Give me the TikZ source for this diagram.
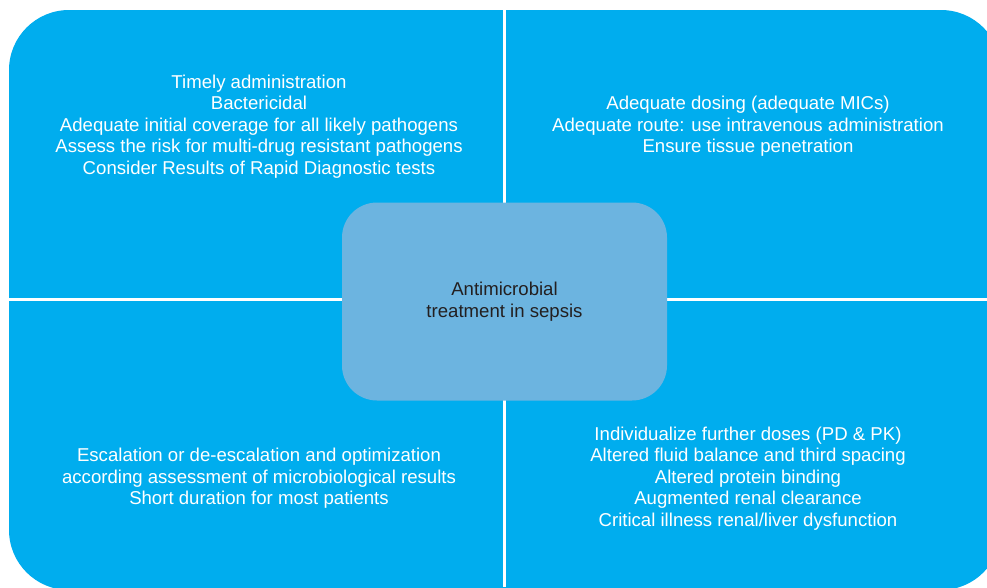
\documentclass[tikz,border=0pt]{standalone}
\usepackage{fontspec}
\setmainfont{Liberation Sans}
\definecolor{quadblue}{HTML}{00ADEE}
\definecolor{hubblue}{HTML}{6CB4E0}
\definecolor{hubtext}{HTML}{231F20}
\tikzset{
  quadtext/.style={align=center, text=white, font=\fontsize{18.6}{21.5}\selectfont, inner sep=0pt},
  hub/.style={fill=hubblue, rounded corners=35pt, minimum width=325pt, minimum height=198pt,
    align=center, text=hubtext, font=\fontsize{18.6}{21.5}\selectfont},
  divider/.style={draw=white, line width=3pt}
}
\begin{document}
\begin{tikzpicture}[x=1pt, y=-1pt]
  \useasboundingbox (0,0) rectangle (987,587);
  % blue field, cropped at the right and bottom edges
  \begin{scope}
    \clip (0,0) rectangle (987,587);
    \fill[quadblue, rounded corners=60pt] (9,10) rectangle (1001,590);
  \end{scope}
  % quadrant dividers
  \coordinate (vtop) at (504,10);
  \coordinate (vbot) at (504,587);
  \coordinate (hleft) at (9,299);
  \coordinate (hright) at (987,299);
  \draw[divider] (vtop) -- (vbot);
  \draw[divider] (hleft) -- (hright);
  % central node
  \node[hub] (hubnode) at (504.5,301.5) {Antimicrobial\\treatment in sepsis};
  % quadrant texts
  \node[quadtext] (tl) at (259,126.5) {Timely administration\\Bactericidal\\Adequate initial coverage for all likely pathogens\\Assess the risk for multi-drug resistant pathogens\\Consider Results of Rapid Diagnostic tests};
  \node[quadtext] (tr) at (748,126.5) {Adequate dosing (adequate MICs)\\Adequate route: use intravenous administration\\Ensure tissue penetration};
  \node[quadtext] (bl) at (259,478.5) {Escalation or de-escalation and optimization\\according assessment of microbiological results\\Short duration for most patients};
  \node[quadtext] (br) at (748,478.5) {Individualize further doses (PD \& PK)\\Altered fluid balance and third spacing\\Altered protein binding\\Augmented renal clearance\\Critical illness renal/liver dysfunction};
\end{tikzpicture}
\end{document}
